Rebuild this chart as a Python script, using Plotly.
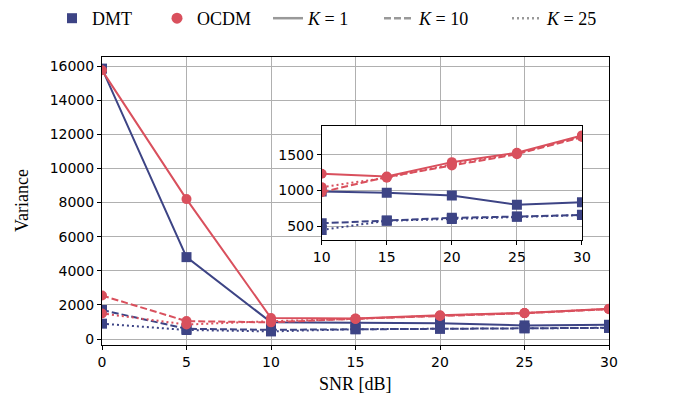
import plotly.graph_objects as go

snr = [0, 5, 10, 15, 20, 25, 30]

dmt_k1 = [15850, 4800, 986, 967, 930, 800, 836]
dmt_k10 = [1700, 600, 540, 578, 616, 634, 658]
dmt_k25 = [900, 530, 446, 575, 600, 630, 655]

ocdm_k1 = [15750, 8200, 1235, 1197, 1398, 1530, 1774]
ocdm_k10 = [2550, 1050, 977, 1190, 1350, 1510, 1750]
ocdm_k25 = [1500, 850, 1047, 1180, 1370, 1520, 1760]

main_yticks = [0, 2000, 4000, 6000, 8000, 10000, 12000, 14000, 16000]
inset_yticks = [500, 1000, 1500]

BLUE = "#3d4485"
RED = "#d9505d"
GREY = "#999999"
DASH = "7px,3px"
DOT = "2px,3px"

series = [
    (dmt_k1, BLUE, "square", "solid"),
    (dmt_k10, BLUE, "square", DASH),
    (dmt_k25, BLUE, "square", DOT),
    (ocdm_k1, RED, "circle", "solid"),
    (ocdm_k10, RED, "circle", DASH),
    (ocdm_k25, RED, "circle", DOT),
]

fig = go.Figure()

for ax in ["", "2"]:
    for vals, col, sym, dash in series:
        if ax == "2":
            xs = [x for x in snr if x >= 10]
            ys = [v for x, v in zip(snr, vals) if x >= 10]
        else:
            xs, ys = snr, vals
        fig.add_trace(go.Scatter(
            x=xs, y=ys, mode="lines+markers",
            line=dict(color=col, width=2, dash=dash),
            marker=dict(color=col, symbol=sym, size=10),
            showlegend=False, cliponaxis=True,
            xaxis="x" + ax, yaxis="y" + ax,
        ))

# legend proxies, each in its own legend so they can be placed like the original
legend_items = [
    ("DMT", dict(mode="markers", marker=dict(color=BLUE, symbol="square", size=10)), 52),
    ("OCDM", dict(mode="markers", marker=dict(color=RED, symbol="circle", size=11)), 157),
    ("<i>K</i> = 1", dict(mode="lines", line=dict(color=GREY, width=2.5, dash="solid")), 268),
    ("<i>K</i> = 10", dict(mode="lines", line=dict(color=GREY, width=2.5, dash=DASH)), 379),
    ("<i>K</i> = 25", dict(mode="lines", line=dict(color=GREY, width=2.5, dash=DOT)), 507),
]
legend_layout = {}
for i, (name, kw, px) in enumerate(legend_items):
    lname = "legend" if i == 0 else f"legend{i + 1}"
    fig.add_trace(go.Scatter(x=[None], y=[None], name=name, legend=lname, **kw))
    legend_layout[lname] = dict(
        x=px / 675, xref="container", xanchor="left",
        y=1 + 1 / 401, yref="container", yanchor="top",
        font=dict(family="Liberation Serif", size=18, color="black"),
        bgcolor="rgba(0,0,0,0)", borderwidth=0,
    )

tickfont = dict(family="DejaVu Sans", size=14, color="black")
axcommon = dict(showline=True, mirror=True, linecolor="black", linewidth=1,
                ticks="outside", ticklen=4, tickcolor="black",
                showgrid=True, gridcolor="#b0b0b0", gridwidth=1,
                zeroline=False, tickfont=tickfont)

PLOT_H = 401 - 57 - 56
PLOT_W = 675 - 102 - 66

fig.update_layout(
    width=675, height=401,
    margin=dict(l=102, r=66, t=57, b=56, autoexpand=False),
    paper_bgcolor="white", plot_bgcolor="white",
    font=dict(family="Liberation Serif", color="black"),
    xaxis=dict(range=[0, 30], tickvals=snr, **axcommon),
    yaxis=dict(range=[-350, 16530], tickvals=main_yticks,
               ticktext=[str(v) for v in main_yticks], **axcommon),
    xaxis2=dict(domain=[0.4333, 0.9467], anchor="y2", range=[10, 30],
                tickvals=[10, 15, 20, 25, 30], **axcommon),
    yaxis2=dict(domain=[0.3646, 0.7615], anchor="x2", range=[305, 1910],
                tickvals=inset_yticks, ticktext=[str(v) for v in inset_yticks], **axcommon),
    annotations=[
        dict(text="SNR [dB]", xref="paper", yref="paper", x=0.5, y=-(384 - 345) / PLOT_H,
             xanchor="center", yanchor="middle", showarrow=False,
             font=dict(family="Liberation Serif", size=18, color="black")),
        dict(text="Variance", xref="paper", yref="paper", x=-(102 - 22) / PLOT_W, y=0.5,
             xanchor="center", yanchor="middle", showarrow=False, textangle=-90,
             font=dict(family="Liberation Serif", size=18, color="black")),
    ],
    **legend_layout,
)

fig.write_html("out.html")
